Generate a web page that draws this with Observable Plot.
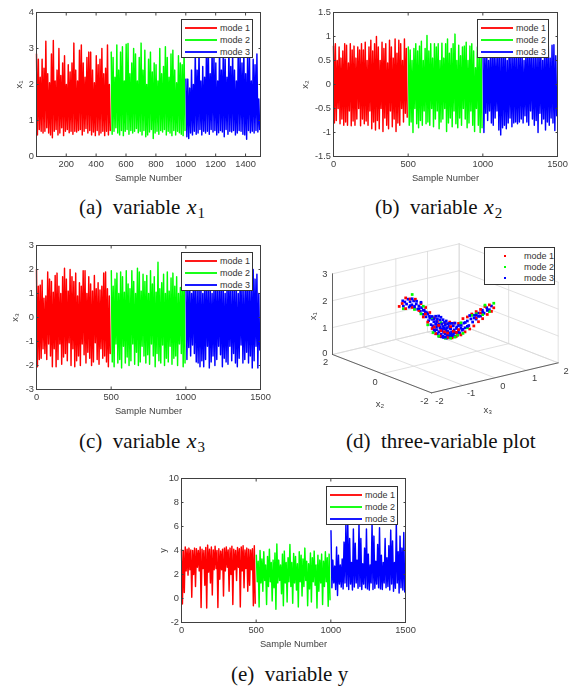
<!DOCTYPE html>
<html><head><meta charset="utf-8">
<script src="https://cdn.jsdelivr.net/npm/d3@7"></script>
<script src="https://cdn.jsdelivr.net/npm/@observablehq/plot@0.6"></script>
<style>
html,body{margin:0;padding:0;background:#fff}
#page{position:relative;width:574px;height:687px;overflow:hidden}
.panel{position:absolute;filter:blur(.35px)}
.panel svg{display:block;background:transparent}
.legend{position:absolute;box-sizing:border-box;background:#fff;border:1px solid #333;font:9px "Liberation Sans",sans-serif;color:#333}
.legend .row{position:absolute;left:0;right:0;height:10px;line-height:10px;white-space:nowrap}
.legend .sw{position:absolute;height:2px;top:4px;opacity:.9}
.legend .dot{position:absolute;width:2px;height:2px;top:4px}
.legend .tx{position:absolute}
.cap{position:absolute;font:21px "Liberation Serif",serif;color:#111;white-space:pre;line-height:24px}
.cap i{font-size:22px;margin-left:1px}.cap sub{font-size:15px;line-height:0;vertical-align:-4px;margin-left:1px}
</style></head><body><div id="page"></div>
<script>
const modes=["mode 1","mode 2","mode 3"];
const modeColors=["#ff0000","#00ff00","#0000ff"];
const xLabel="Sample Number";

// x1 trace: peaks and troughs per mode
const x1Mode1Hi=[2.85,2.7,2.2,2.7,2.45,3.2,2.3,2.05,2.85,3.22,2.1,2.4,3.0,2.25,2.6,2.8,2.0,2.55,2.35,2.6,3.15,2.4,2.1,2.95,3.1,2.6,2.2,2.75,2.9,2.9,2.4,2.05,2.8,2.55,2.7,3.0,2.3,2.45,3.1,2.0];
const x1Mode1Lo=[.6,.75,.7,.65,.7,.8,.65,.6,.52,.7,.75,.6,.65,.8,.58,.7,.75,.66,.7,.62,.7,.68,.72,.75,.6,.7,.78,.65,.72,.6,.68,.58,.72,.6,.65,.7,.58,.7,.6,.72];
const x1Mode2Hi=[2.9,2.75,2.2,3.1,2.4,2.9,3.05,2.1,3.12,3.14,2.3,2.6,3.0,2.85,2.1,2.75,3.15,2.4,2.95,2.0,2.7,2.9,2.35,2.6,2.55,2.1,3.0,2.3,2.5,3.05,2.75,2.2,2.85,2.95,2.4,2.05,2.8,2.6,2.55,3.0];
const x1Mode2Lo=[.62,.7,.8,.65,.6,.72,.58,.7,.75,.62,.72,.65,.7,.78,.66,.7,.6,.72,.55,.6,.68,.75,.5,.65,.7,.62,.72,.68,.75,.6,.7,.65,.58,.72,.6,.7,.66,.62,.58,.72];
const x1Mode3Hi=[2.15,2.15,1.9,2.4,2.0,2.9,2.4,3.0,2.1,2.5,2.2,3.1,3.0,2.3,3.0,2.8,2.6,2.1,3.1,2.4,3.0,2.7,2.2,3.1,2.5,2.9,2.4,2.1,3.0,2.8,2.6,2.95,2.3,2.75,2.9,2.1,2.7,2.55,2.85,1.6];
const x1Mode3Lo=[.55,.5,.65,.6,.7,.62,.65,.75,.6,.7,.65,.7,.62,.75,.68,.72,.6,.66,.72,.68,.55,.75,.62,.7,.68,.72,.6,.65,.72,.7,.62,.6,.48,.72,.66,.7,.65,.72,.68,.75];

// x2 trace
const x2Mode1Hi=[.8,.85,.5,.78,.55,.7,.85,.82,.45,.85,.72,.8,.55,.78,.72,.85,.72,.88,.5,.78,.92,.7,.85,1.0,.78,.5,.88,.75,.85,.45,.92,.78,.55,.95,.65,.92,.85,.5,.95,.75];
const x2Mode1Lo=[-.8,-.75,-.5,-.82,-.72,-.85,-.78,-.85,-.55,-.86,-.76,-.85,-.72,-.5,-.86,-.72,-.82,-.76,-.85,-.55,-.92,-.78,-.95,-.75,-.92,-.5,-.98,-.7,-.85,-.92,-.55,-.88,-.72,-.98,-.8,-.85,-.5,-.78,-.6,-.68];
const x2Mode2Hi=[.78,.72,.5,.75,.85,.7,.8,.9,.5,.75,1.02,.7,.85,.55,.85,.78,.85,.5,.86,.55,.85,.95,.65,.75,.85,1.05,.5,.82,.6,.78,.8,.88,.5,.8,.85,.7,.35,.78,.6,.78];
const x2Mode2Lo=[-.85,-.78,-1.0,-.5,-.82,-.9,-.75,-.85,-.55,-.82,-.78,-.85,-.5,-.88,-.72,-.55,-.92,-.78,-.72,-.5,-.98,-.8,-.7,-.88,-.55,-.82,-.9,-.7,-.85,-.5,-.72,-.9,-.8,-.55,-.85,-.98,-.5,-.85,-1.0,-.9];
const x2Mode3Hi=[.7,.6,.75,.5,.7,.65,.8,.55,.75,.7,.6,.8,.65,.5,.75,.7,.6,.8,.55,.7,.75,.6,.5,.7,.8,.65,.7,.55,.75,.6,.8,.7,.5,.75,.7,.8,.55,.82,.83,.6];
const x2Mode3Lo=[-1.0,-.6,-.75,-.55,-.8,-.85,-.7,-.55,-.95,-1.05,-.9,-.85,-.92,-.8,-.7,-.88,-.8,-.78,-.82,-.78,-.72,-.8,-.65,-.78,-.85,-.55,-.72,-.85,-.75,-1.0,-.6,-.82,-.72,-.95,-.78,-.85,-.7,-.8,-.96,-.65];

// x3 trace
const x3Mode1Hi=[2.0,1.3,1.35,1.55,.8,.9,1.9,1.6,1.5,1.05,1.75,1.85,1.3,1.0,1.7,2.05,1.6,1.1,2.0,1.7,1.5,1.85,.9,1.45,1.3,1.95,1.95,1.0,1.7,1.4,1.1,1.75,1.2,1.45,1.15,1.3,1.85,1.9,1.2,.9];
const x3Mode1Lo=[-2.05,-1.75,-1.7,-1.3,-1.5,-1.75,-1.1,-1.6,-2.05,-1.3,-2.05,-1.75,-1.1,-1.95,-1.65,-1.5,-1.8,-1.05,-2.0,-1.3,-2.05,-1.8,-1.6,-2.0,-1.1,-1.55,-1.9,-1.45,-1.7,-2.0,-1.85,-1.05,-1.75,-1.95,-1.3,-1.7,-1.6,-1.85,-2.05,-1.5];
const x3Mode2Hi=[1.95,1.3,1.6,1.85,1.0,1.9,1.7,1.05,1.95,1.4,1.2,1.95,1.5,1.0,2.05,1.9,1.1,1.8,1.5,1.75,1.0,1.95,1.4,1.7,1.05,2.3,1.2,1.45,1.8,1.0,1.9,1.1,1.65,1.85,1.3,1.7,1.0,1.25,1.9,1.6];
const x3Mode2Lo=[-1.85,-2.05,-1.1,-1.9,-1.75,-2.1,-1.2,-1.9,-1.65,-2.0,-1.8,-1.1,-1.95,-1.45,-2.0,-1.85,-1.2,-1.6,-1.9,-1.55,-1.95,-1.1,-1.6,-2.05,-1.5,-1.8,-1.9,-1.15,-2.0,-1.7,-1.85,-1.2,-1.95,-1.7,-1.6,-2.0,-1.1,-1.5,-2.05,-1.9];
const x3Mode3Hi=[1.4,1.2,1.5,1.0,1.6,1.3,1.1,1.5,1.4,1.0,1.6,1.3,1.2,1.5,1.0,1.4,1.6,1.1,1.3,1.5,1.2,1.0,1.4,1.6,1.3,1.1,1.5,1.2,1.0,1.6,1.4,1.1,1.3,1.6,1.2,1.4,2.0,1.6,1.8,1.0];
const x3Mode3Lo=[-1.75,-1.25,-1.6,-1.15,-1.5,-1.85,-1.9,-2.05,-1.8,-2.05,-1.75,-1.2,-2.1,-1.85,-1.6,-2.0,-1.75,-1.2,-1.55,-2.05,-1.7,-1.85,-1.95,-1.2,-1.8,-1.5,-1.9,-2.05,-1.7,-1.15,-1.9,-1.75,-1.45,-1.9,-1.6,-2.1,-1.8,-1.2,-2.1,-1.35];

// y trace
const yMode1Hi=[4.1,4.0,4.3,4.1,4.2,4.05,4.0,4.2,4.15,4.0,4.3,4.1,4.0,4.25,4.45,4.1,4.3,4.05,4.35,4.0,4.15,3.95,4.1,4.2,4.3,4.05,4.2,4.35,4.1,4.0,4.25,4.15,4.3,4.4,4.05,4.2,4.1,4.05,4.15,4.4];
const yMode1Lo=[-.45,.5,2.3,1.95,2.4,.1,2.0,1.0,2.6,2.3,-.75,2.5,1.1,-.8,2.2,1.3,.3,2.4,2.5,-.75,1.6,2.4,.2,2.3,2.6,.6,2.0,-.5,2.4,1.5,2.6,-.7,2.3,.9,2.5,.6,1.1,2.4,-.6,-.4];
const yMode2Hi=[3.6,3.1,4.0,3.3,3.9,2.8,3.5,4.1,3.0,3.2,3.8,4.55,3.2,2.8,3.7,3.95,3.0,3.4,4.5,3.0,3.75,3.5,2.9,3.9,3.6,3.3,4.2,3.1,2.9,3.8,3.4,3.95,2.8,3.6,3.2,3.7,3.1,3.9,3.4,3.7];
const yMode2Lo=[1.4,-.7,1.3,.6,1.5,-.5,1.0,1.4,-.2,.9,-.9,1.3,1.5,.4,-.6,1.3,-.3,1.4,1.0,-.4,1.3,.7,-.7,1.4,.2,1.0,1.5,-.6,.8,-.3,1.4,1.1,-.8,.6,1.3,-.5,1.0,1.4,-.65,-.1];
const yMode3Hi=[5.65,3.2,2.7,4.3,3.6,2.8,3.3,4.7,6.3,6.3,5.0,3.0,5.8,4.6,3.2,6.3,5.0,2.9,4.2,5.8,3.7,2.8,6.3,5.2,3.1,4.5,5.9,3.6,3.0,5.0,3.4,4.4,5.7,4.8,3.0,6.3,3.9,5.2,4.2,5.5];
const yMode3Lo=[.9,1.3,.75,.25,1.2,.95,.8,1.3,1.0,.75,1.2,.7,.95,1.3,.85,1.0,.75,1.2,.9,.8,.7,1.3,.75,.85,1.2,.9,.8,.75,1.3,.9,1.0,.7,1.2,.6,.85,1.3,.45,.9,.7,.55];

// Three-variable scatter: one array per coordinate and mode
const mode1X3=[-1.05,-.98,-.9,-.9,-.8,-.75,-.68,-.6,-.55,-.5,-.45,-.4,-.35,-.3,-.25,-.22,-.18,-.12,-.08,0,.05,.1,.15,.2,.25,.3,.35,.4,.45,.5,.55,.6,.65,.7,.75,.8,.85,.9,.95,1.0,1.05,1.1,-.15,-.1,-.02,.05,.12,.18,.25,.3,-.25,-.45,.7,.8];
const mode1X2=[.52,.49,.45,.45,.4,.38,.34,.3,.28,.25,.22,.2,.18,.15,.12,.11,.09,.06,.04,0,-.02,-.05,-.08,-.1,-.12,-.15,-.18,-.2,-.22,-.25,-.28,-.3,-.32,-.35,-.38,-.4,-.42,-.45,-.48,-.5,-.52,-.55,.08,.05,.01,-.03,-.06,-.09,-.13,-.15,.13,.23,-.35,-.4];
const mode1X1=[2.05,2.15,2.35,1.95,2.3,1.98,2.28,1.85,2.1,1.6,1.95,1.4,1.75,1.15,1.55,.95,1.4,.85,1.3,1.3,.78,1.35,.76,1.3,.8,1.28,.85,1.45,.95,1.5,1.05,1.6,1.15,1.68,1.3,1.75,1.4,1.85,1.55,1.9,1.65,1.78,1.25,1.05,1.0,.95,1.18,1.0,.95,1.05,1.2,1.7,1.45,1.62];
const mode2X3=[-.75,-.95,-.7,-.55,-.4,-.5,-.3,-.28,-.15,-.1,0,.12,.22,.28,.35,.4,.5,.6,.7,.85,.9,1.1,1.0];
const mode2X2=[.38,.48,.35,.28,.2,.25,.15,.14,.08,.05,0,-.06,-.11,-.14,-.18,-.2,-.25,-.3,-.35,-.42,-.45,-.55,-.5];
const mode2X1=[2.46,1.95,1.9,1.72,1.3,2.0,1.55,1.0,.85,1.35,.76,.75,.78,.85,1.3,.9,1.1,1.55,1.6,1.55,1.9,1.95,1.65];
const mode3X3=[-.97,-.95,-.92,-.88,-.85,-.82,-.8,-.76,-.72,-.7,-.66,-.63,-.6,-.57,-.54,-.5,-.48,-.44,-.42,-.38,-.36,-.33,-.31,-.28,-.26,-.24,-.22,-.2,-.18,-.17,-.15,-.14,-.12,-.1,-.09,-.08,-.06,-.05,-.04,-.03,-.02,0,0,.02,.03,.04,.05,.06,.08,.09,.1,.12,.13,.14,.16,.18,.2,.22,.24,.26,.28,.3,.33,.36,.38,.42,.45,.5,.53,.58,.62,.66,.7,.75,.8,.84,.88,.94,1.0,1.05,-.3,-.28,-.25,-.25,-.22,-.2,-.2,-.18,-.15,-.15,-.12,-.12,-.1,-.08,-.08,-.05,-.05,-.02,-.02,0,0,.02,.03,.05,.05,.08,.08,.1,.12,.12,.15,.15,.18,.2,.22,.25,.28,.3,.35,.4,.45,.5,-.8,-.75,-.7,-.65,-.6,-.55,-.5,-.45,-.4,-.35,.55,.65,.7,.75,.85,.95];
const mode3X2=[.48,.48,.46,.44,.42,.41,.4,.38,.36,.35,.33,.31,.3,.28,.27,.25,.24,.22,.21,.19,.18,.16,.15,.14,.13,.12,.11,.1,.09,.08,.07,.07,.06,.05,.05,.04,.03,.02,.02,.01,.01,0,0,-.01,-.01,-.02,-.02,-.03,-.04,-.05,-.05,-.06,-.07,-.07,-.08,-.09,-.1,-.11,-.12,-.13,-.14,-.15,-.16,-.18,-.19,-.21,-.22,-.25,-.27,-.29,-.31,-.33,-.35,-.38,-.4,-.42,-.44,-.47,-.5,-.52,.15,.14,.13,.13,.11,.1,.1,.09,.08,.08,.06,.06,.05,.04,.04,.03,.03,.01,.01,0,0,-.01,-.02,-.03,-.03,-.04,-.04,-.05,-.06,-.06,-.08,-.08,-.09,-.1,-.11,-.13,-.14,-.15,-.18,-.2,-.23,-.25,.4,.38,.35,.33,.3,.28,.25,.23,.2,.18,-.28,-.33,-.35,-.38,-.43,-.48];
const mode3X1=[2.25,2.05,2.2,2.12,2.3,2.0,2.2,2.08,2.22,1.95,2.1,1.9,2.02,1.82,1.95,1.7,1.85,1.6,1.75,1.45,1.62,1.3,1.5,1.2,1.4,1.05,1.3,1.1,.95,1.25,1.02,.85,1.15,.92,.82,1.05,.85,.8,.98,1.15,.8,.78,.92,1.05,.8,.76,.88,1.0,.8,.85,1.12,.78,.8,.98,.8,.88,1.05,.82,.95,1.15,.85,1.02,.92,1.2,1.02,1.28,1.1,1.35,1.18,1.42,1.3,1.55,1.4,1.62,1.5,1.72,1.6,1.8,1.72,1.85,1.6,1.25,1.5,1.1,1.6,1.4,1.2,1.5,1.6,1.3,1.45,1.2,1.55,1.3,1.1,1.45,1.2,1.35,1.1,1.25,.8,1.4,1.15,1.3,1.0,1.2,.95,1.3,1.1,.9,1.3,.85,1.2,.95,1.3,1.1,.95,1.2,1.1,1.05,1.3,1.15,2.05,2.3,2.02,2.2,1.92,2.15,1.85,1.78,1.7,1.55,1.55,1.45,1.55,1.5,1.65,1.7];

// 3-D axis ticks
const x3Ticks=[-2,-1,0,1,2];
const x2Ticks=[-2,0,2];
const x1Ticks=[0,1,2,3];

const page=document.getElementById("page");
const axisColor="#404040";
const style={fontFamily:"'Liberation Sans',sans-serif",fontSize:"9.3px",color:axisColor,background:"transparent",overflow:"visible"};

function trace(hi,lo,start,mode){
  const step=500/hi.length;
  return hi.flatMap((h,i)=>[{n:start+i*step,v:h,mode},{n:start+(i+.5)*step,v:lo[i],mode}]);
}
function place(el,left,top){el.classList.add("panel");el.style.left=left+"px";el.style.top=top+"px";page.appendChild(el);}

function linePanel(cfg){
  const rows=[...trace(cfg.s[0],cfg.s[1],cfg.x0,modes[0]),...trace(cfg.s[2],cfg.s[3],501,modes[1]),...trace(cfg.s[4],cfg.s[5],1001,modes[2])];
  const fmt=d=>String(d);
  const p=Plot.plot({
    width:287,height:185,marginLeft:36,marginRight:27,marginTop:12,marginBottom:29,
    style,
    x:{domain:[cfg.x0,1500]},
    y:{domain:cfg.yDomain},
    color:{domain:modes,range:modeColors},
    marks:[
      Plot.line(rows,{x:"n",y:"v",z:"mode",stroke:"mode",strokeWidth:1.45,strokeLinejoin:"round"}),
      Plot.frame({stroke:axisColor,strokeWidth:1}),
      Plot.axisX({ticks:cfg.xTicks,tickSize:-2.5,tickPadding:6,tickFormat:fmt,stroke:axisColor,label:xLabel,labelAnchor:"center",labelArrow:"none",labelOffset:24,marginBottom:29}),
      Plot.axisX({anchor:"top",ticks:cfg.xTicks,tickSize:-2.5,tickFormat:()=>"",stroke:axisColor,label:null}),
      Plot.axisY({ticks:cfg.yTicks,tickSize:-2.5,tickPadding:5,tickFormat:fmt,stroke:axisColor,label:cfg.yLabel,labelAnchor:"center",labelArrow:"none",labelOffset:cfg.yOff,marginLeft:36}),
      Plot.axisY({anchor:"right",ticks:cfg.yTicks,tickSize:-2.5,tickFormat:()=>"",stroke:axisColor,label:null})
    ]
  });
  place(p,cfg.left,cfg.top);
}

linePanel({left:0,top:0,x0:1,s:[x1Mode1Hi,x1Mode1Lo,x1Mode2Hi,x1Mode2Lo,x1Mode3Hi,x1Mode3Lo],yDomain:[0,4],xTicks:[200,400,600,800,1000,1200,1400],yTicks:[0,1,2,3,4],yLabel:"x₁",yOff:21});
linePanel({left:297,top:0,x0:0,s:[x2Mode1Hi,x2Mode1Lo,x2Mode2Hi,x2Mode2Lo,x2Mode3Hi,x2Mode3Lo],yDomain:[-1.5,1.5],xTicks:[0,500,1000,1500],yTicks:[-1.5,-1,-.5,0,.5,1,1.5],yLabel:"x₂",yOff:32});
linePanel({left:0,top:233,x0:0,s:[x3Mode1Hi,x3Mode1Lo,x3Mode2Hi,x3Mode2Lo,x3Mode3Hi,x3Mode3Lo],yDomain:[-3,3],xTicks:[0,500,1000,1500],yTicks:[-3,-2,-1,0,1,2,3],yLabel:"x₃",yOff:25});
linePanel({left:145,top:466,x0:0,s:[yMode1Hi,yMode1Lo,yMode2Hi,yMode2Lo,yMode3Hi,yMode3Lo],yDomain:[-2,10],xTicks:[0,500,1000,1500],yTicks:[-2,0,2,4,6,8,10],yLabel:"y",yOff:22});

// Three-variable panel: view projection of the axes box
const W=287,H=225;
const project=(x3,x2,x1)=>({
  px:(432+95*(x3+2)-74.25*(x2+2))/3,
  py:(487-22.5*(x3+2)-28.75*(x2+2)-80.67*x1)/3
});
const seg=(a,b,id)=>[{...project(...a),id},{...project(...b),id}];
const grid=[];let gid=0;
for(const t of x3Ticks){grid.push(...seg([t,-2,0],[t,2,0],gid++));grid.push(...seg([t,2,0],[t,2,3],gid++));}
for(const t of x2Ticks){grid.push(...seg([-2,t,0],[2,t,0],gid++));grid.push(...seg([2,t,0],[2,t,3],gid++));}
for(const t of x1Ticks){grid.push(...seg([-2,2,t],[2,2,t],gid++));grid.push(...seg([2,2,t],[2,-2,t],gid++));}
const box=[...seg([-2,2,0],[-2,-2,0],"a"),...seg([-2,-2,0],[2,-2,0],"b"),...seg([-2,2,0],[-2,2,3],"c")];
const cloud=(a,b,c,mode)=>a.map((v,i)=>({...project(v,b[i],c[i]),mode,k:i/a.length}));
const pts=d3.sort([...cloud(mode1X3,mode1X2,mode1X1,modes[0]),...cloud(mode2X3,mode2X2,mode2X1,modes[1]),...cloud(mode3X3,mode3X2,mode3X1,modes[2])],d=>d.k);
const tickMarks=[
  ...x1Ticks.map(t=>({...project(-2,2,t),t:String(t),dx:-5,dy:t===0?-1.5:0,a:"end"})),
  ...x2Ticks.map(t=>({...project(-2,t,0),t:String(t),dx:-7,dy:8,a:"middle"})),
  ...x3Ticks.map(t=>({...project(t,-2,0),t:String(t),dx:8,dy:8,a:"middle"}))
];
const d3Labels=[
  {...project(-2,2,1.5),t:"x₁",dx:-20,dy:2,r:-90},
  {...project(-2,0,0),t:"x₂",dx:-2,dy:30,r:0},
  {...project(0,-2,0),t:"x₃",dx:-7,dy:32,r:0}
];
const p3=Plot.plot({
  width:W,height:H,margin:0,style,
  x:{domain:[0,W],range:[0,W],axis:null},
  y:{domain:[0,H],range:[0,H],axis:null},
  color:{domain:modes,range:modeColors},
  marks:[
    Plot.line(grid,{x:"px",y:"py",z:"id",stroke:"#d9d9d9",strokeWidth:.8}),
    Plot.line(box,{x:"px",y:"py",z:"id",stroke:"#555",strokeWidth:.9}),
    Plot.dot(pts,{x:"px",y:"py",fill:"mode",r:1.55,symbol:"square"}),
    ...tickMarks.map(d=>Plot.text([d],{x:"px",y:"py",text:"t",dx:d.dx,dy:d.dy,textAnchor:d.a,fill:axisColor})),
    ...d3Labels.map(d=>Plot.text([d],{x:"px",y:"py",text:"t",dx:d.dx,dy:d.dy,rotate:d.r,fill:axisColor,fontSize:"9.5px"}))
  ]
});
place(p3,287,230);

// Legends sit over the plots, as in the reference
function legend(left,top,w,h,kind,txLeft,swLeft,swW,rowY){
  const el=document.createElement("div");el.className="legend";
  Object.assign(el.style,{left:left+"px",top:top+"px",width:w+"px",height:h+"px"});
  modes.forEach((m,i)=>{
    const r=document.createElement("div");r.className="row";r.style.top=rowY[i]+"px";
    const s=document.createElement("div");s.className=kind;s.style.left=swLeft+"px";if(kind==="sw")s.style.width=swW+"px";s.style.background=modeColors[i];
    const t=document.createElement("div");t.className="tx";t.style.left=txLeft+"px";t.textContent=m;
    r.append(s,t);el.appendChild(r);
  });
  page.appendChild(el);
}
const rowsLine=[3,15,27];
legend(181,19,72,39,"sw",38,3,32,rowsLine);
legend(477,19,72,39,"sw",38,3,32,rowsLine);
legend(181,252,72,39,"sw",38,3,32,rowsLine);
legend(326,486,72,39,"sw",38,3,32,rowsLine);
legend(484,247,71,38,"dot",39,19,0,[3,14,25]);

// Captions
const captions=[
  [79,195,"(a)  variable <i>x</i><sub>1</sub>"],
  [375,195,"(b)  variable <i>x</i><sub>2</sub>"],
  [79,429,"(c)  variable <i>x</i><sub>3</sub>"],
  [346,429,"(d)  three-variable plot"],
  [231,662,"(e)  variable y"]
];
for(const [l,t,h] of captions){const c=document.createElement("div");c.className="cap";c.style.left=l+"px";c.style.top=t+"px";c.innerHTML=h;page.appendChild(c);}
</script></body></html>
